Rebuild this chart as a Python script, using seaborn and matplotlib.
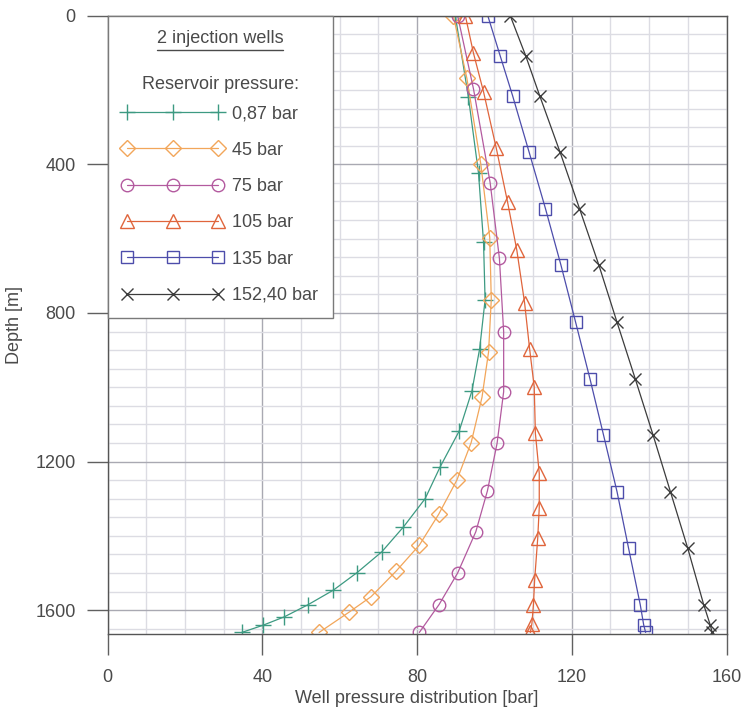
import numpy as np
import pandas as pd
import matplotlib
matplotlib.use("Agg")
import matplotlib.pyplot as plt
import seaborn as sns
from matplotlib.ticker import MultipleLocator, FixedLocator
from matplotlib.lines import Line2D

# ---------------- data ----------------
series_labels = ["0,87 bar", "45 bar", "75 bar", "105 bar", "135 bar", "152,40 bar"]

depth_087 = [0, 220, 424, 610, 765, 896, 1010, 1118, 1214, 1300, 1376, 1443, 1499, 1546, 1585, 1618, 1641, 1660]
press_087 = [89.9, 93.3, 95.9, 97.2, 97.6, 96.2, 94.2, 90.9, 86.0, 82.1, 76.5, 70.9, 64.5, 58.4, 51.9, 45.7, 40.1, 34.7]

depth_45 = [0, 169, 400, 597, 764, 905, 1027, 1149, 1250, 1342, 1425, 1495, 1564, 1605, 1660]
press_45 = [89.4, 92.9, 96.5, 98.8, 99.2, 98.5, 96.8, 94.0, 90.3, 85.6, 80.6, 74.6, 68.1, 62.5, 54.7]

depth_75 = [0, 197, 449, 653, 851, 1012, 1151, 1279, 1389, 1500, 1585, 1660]
press_75 = [90.5, 94.6, 98.9, 101.3, 102.4, 102.4, 100.7, 98.2, 95.2, 90.5, 85.7, 80.6]

depth_105 = [0, 101, 205, 357, 501, 631, 772, 896, 999, 1124, 1232, 1324, 1407, 1520, 1585, 1636, 1660]
press_105 = [92.5, 94.6, 97.2, 100.5, 103.4, 105.8, 107.8, 109.1, 110.3, 110.6, 111.6, 111.6, 111.2, 110.4, 110.1, 109.7, 109.3]

depth_135 = [0, 108, 215, 368, 519, 671, 825, 977, 1128, 1281, 1434, 1585, 1640, 1660]
press_135 = [98.3, 101.5, 104.7, 109.0, 113.2, 117.2, 121.0, 124.7, 128.2, 131.7, 134.7, 137.7, 138.6, 139.1]

depth_152 = [0, 108, 215, 368, 519, 671, 825, 977, 1128, 1281, 1434, 1585, 1640, 1660]
press_152 = [104.1, 108.1, 111.7, 117.0, 122.0, 127.0, 131.7, 136.4, 141.0, 145.5, 150.0, 154.1, 155.8, 156.3]

x_ticks = [0, 40, 80, 120, 160]
y_ticks = [0, 400, 800, 1200, 1600]

depths = [depth_087, depth_45, depth_75, depth_105, depth_135, depth_152]
pressures = [press_087, press_45, press_75, press_105, press_135, press_152]

df = pd.concat(
    [pd.DataFrame({"depth": d, "pressure": p, "series": lab})
     for d, p, lab in zip(depths, pressures, series_labels)],
    ignore_index=True,
)

# ---------------- style ----------------
colors = ["#3d9a82", "#f2a65a", "#b35a9f", "#e0653c", "#4d4dab", "#3c3c3c"]
markers = ["+", "D", "o", "^", "s", "x"]
msizes = [11, 8, 9, 9.5, 8, 9]

sns.set_theme(style="white")
plt.rcParams["font.family"] = ["Liberation Sans", "DejaVu Sans"]
text_col = "#4a4a4a"

fig = plt.figure(figsize=(7.44, 7.11), dpi=100)
ax = fig.add_axes([107.5 / 744, 1 - 634.3 / 711, (726.5 - 107.5) / 744, (634.3 - 15.7) / 711])

for lab, col, mk, ms in zip(series_labels, colors, markers, msizes):
    sub = df[df["series"] == lab]
    sns.lineplot(data=sub, x="pressure", y="depth", sort=False, estimator=None,
                 ax=ax, color=col, marker=mk, markersize=ms,
                 markerfacecolor="none", markeredgecolor=col,
                 markeredgewidth=1.0, linewidth=0.9, label=lab, legend=False)

ax.set_xlim(0, 160)
ax.set_ylim(1665, 0)
ax.xaxis.set_major_locator(FixedLocator(x_ticks))
ax.yaxis.set_major_locator(FixedLocator(y_ticks))
ax.xaxis.set_minor_locator(MultipleLocator(10))
ax.yaxis.set_minor_locator(MultipleLocator(50))
ax.set_axisbelow(True)
ax.grid(which="minor", color="#dcdce3", linewidth=1.0)
ax.grid(which="major", color="#a9a9b2", linewidth=1.0)
ax.tick_params(which="minor", length=0)
ax.tick_params(which="major", direction="out", length=15, width=1.0,
               color="#606060", labelsize=13, labelcolor=text_col,
               bottom=True, left=True)
ax.tick_params(axis="x", pad=10)
ax.tick_params(axis="y", pad=8)
for s in ax.spines.values():
    s.set_color("#555555")
    s.set_linewidth(1.0)

ax.set_xlabel("Well pressure distribution [bar]", fontsize=13, color=text_col, labelpad=3)
ax.set_ylabel("Depth [m]", fontsize=13, color=text_col, labelpad=9)

handles, labs = ax.get_legend_handles_labels()
leg = ax.legend(handles, labs, loc="upper left", bbox_to_anchor=(0, 1),
                borderaxespad=0, fontsize=13, numpoints=3,
                handlelength=5.6, handletextpad=0.5, labelspacing=1.07,
                borderpad=0.8, title="2 injection wells\n\nReservoir pressure:",
                title_fontsize=13, fancybox=False, framealpha=1,
                edgecolor="#7a7a7a", facecolor="white")
leg.get_frame().set_linewidth(1.0)
for t in leg.get_texts():
    t.set_color(text_col)
leg.get_title().set_color(text_col)
leg.get_title().set_linespacing(1.45)
leg.get_title().set_multialignment("center")
leg._legend_box.sep = 9

# underline the first title line
fig.canvas.draw()
r = fig.canvas.get_renderer()
fb = leg.get_frame().get_window_extent(r)
tb = leg.get_title().get_window_extent(r)
cx = (tb.x0 + tb.x1) / 2
tmp = fig.text(0, 0, "2 injection wells", fontsize=13)
w = tmp.get_window_extent(r).width
tmp.remove()
uy = fb.y1 - 34.5
fig.add_artist(Line2D([(cx - w / 2) / 744, (cx + w / 2) / 744], [uy / 711, uy / 711],
                      color=text_col, linewidth=1.0, transform=fig.transFigure, zorder=10))

fig.savefig("out.png", dpi=100)
